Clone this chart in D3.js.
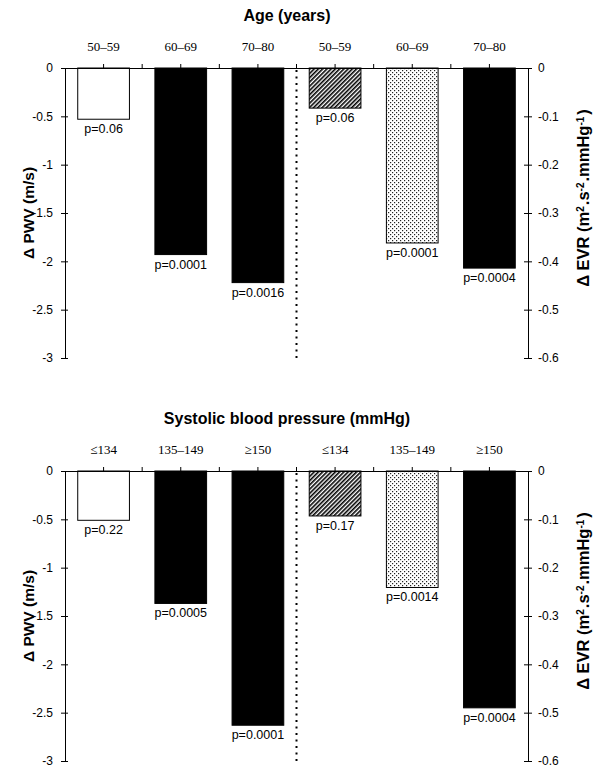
<!DOCTYPE html>
<html>
<head>
<meta charset="utf-8">
<script src="https://cdn.jsdelivr.net/npm/d3@7"></script>
<style>
  body { margin: 0; background: #fff; }
  svg { display: block; }
  .tick text { font-family: "Liberation Sans", Arial, sans-serif; }
</style>
</head>
<body>
<div id="chart"></div>
<script>
// values
const ageGroups = ['50–59', '60–69', '70–80']
const sbpGroups = ['≤134', '135–149', '≥150']

const agePwv = [-0.53, -1.93, -2.22]
const ageEvr = [-0.083, -0.362, -0.414]
const agePwvP = ['p=0.06', 'p=0.0001', 'p=0.0016']
const ageEvrP = ['p=0.06', 'p=0.0001', 'p=0.0004']

const sbpPwv = [-0.51, -1.37, -2.63]
const sbpEvr = [-0.093, -0.241, -0.49]
const sbpPwvP = ['p=0.22', 'p=0.0005', 'p=0.0001']
const sbpEvrP = ['p=0.17', 'p=0.0014', 'p=0.0004']

const pwvTicks = [0, -0.5, -1, -1.5, -2, -2.5, -3]
const evrTicks = [0, -0.1, -0.2, -0.3, -0.4, -0.5, -0.6]

// bar look, in the order the bars are drawn
const barFills = ['white', 'black', 'black', 'url(#hatch)', 'url(#dots)', 'black']

const d3 = window.d3
const W = 597, H = 768
const left = 65, right = 528, plotH = 290

const svg = d3.select('#chart').append('svg')
  .attr('width', W)
  .attr('height', H)

// fill patterns for the EVR bars
const defs = svg.append('defs')
defs.append('pattern')
  .attr('id', 'hatch')
  .attr('patternUnits', 'userSpaceOnUse')
  .attr('width', 3)
  .attr('height', 3)
  .attr('patternTransform', 'rotate(45)')
  .append('rect')
  .attr('width', 1.6)
  .attr('height', 3)
  .attr('fill', 'black')

const dots = defs.append('pattern')
  .attr('id', 'dots')
  .attr('patternUnits', 'userSpaceOnUse')
  .attr('width', 4)
  .attr('height', 4)
dots.append('rect').attr('width', 4).attr('height', 4).attr('fill', 'white')
dots.append('rect').attr('x', 0).attr('y', 0).attr('width', 1.2).attr('height', 1.2).attr('fill', '#222')
dots.append('rect').attr('x', 2).attr('y', 2).attr('width', 1.2).attr('height', 1.2).attr('fill', '#222')

function panel(top, title, groups, pwv, evr, pwvP, evrP) {
  const g = svg.append('g').attr('transform', 'translate(0,' + top + ')')

  // six slots: three PWV bars then three EVR bars
  const cats = groups.map(d => 'L' + d).concat(groups.map(d => 'R' + d))
  const x = d3.scaleBand().domain(cats).range([left, right]).paddingInner(0.33).paddingOuter(0.165)
  const yL = d3.scaleLinear().domain([0, -3]).range([0, plotH])
  const yR = d3.scaleLinear().domain([0, -0.6]).range([0, plotH])

  const rows = pwv.map((v, i) => ({cat: cats[i], v: v, y: yL, p: pwvP[i]}))
    .concat(evr.map((v, i) => ({cat: cats[i + 3], v: v, y: yR, p: evrP[i]})))

  // title
  g.append('text')
    .attr('x', 287)
    .attr('y', -47)
    .attr('text-anchor', 'middle')
    .style('font-family', '"Liberation Sans", Arial, sans-serif')
    .style('font-weight', 'bold')
    .style('font-size', '16px')
    .text(title)

  // bars
  g.selectAll('rect.bar')
    .data(rows)
    .enter().append('rect')
    .attr('class', 'bar')
    .attr('x', d => x(d.cat))
    .attr('width', x.bandwidth())
    .attr('y', d => d.y(0))
    .attr('height', d => d.y(d.v) - d.y(0))
    .attr('fill', (d, i) => barFills[i])
    .attr('stroke', 'black')
    .attr('stroke-width', 1)

  // p values under the bars
  g.selectAll('text.pval')
    .data(rows)
    .enter().append('text')
    .attr('class', 'pval')
    .attr('x', d => x(d.cat) + x.bandwidth() / 2)
    .attr('y', d => d.y(d.v) + 14)
    .attr('text-anchor', 'middle')
    .style('font-family', '"Liberation Sans", Arial, sans-serif')
    .style('font-size', '12.5px')
    .text(d => d.p)

  // top axis at zero with group labels
  const topAxis = g.append('g')
    .call(d3.axisTop(x).tickSize(4).tickSizeOuter(0).tickPadding(13).tickFormat(d => d.slice(1)))
  topAxis.select('.domain').attr('stroke-width', 1)
  topAxis.selectAll('.tick text')
    .style('font-family', '"Liberation Serif", "Times New Roman", serif')
    .style('font-size', '13px')
  // boundary ticks between groups
  const bounds = cats.slice(1).map(c => x(c) - x.step() * x.paddingInner() / 2)
  topAxis.selectAll('line.bound')
    .data(bounds)
    .enter().append('line')
    .attr('class', 'bound')
    .attr('x1', d => d).attr('x2', d => d)
    .attr('y1', 0).attr('y2', -4)
    .attr('stroke', 'black')

  // dotted divider between PWV and EVR halves
  g.append('line')
    .attr('x1', bounds[2]).attr('x2', bounds[2])
    .attr('y1', 2).attr('y2', plotH)
    .attr('stroke', 'black')
    .attr('stroke-width', 2)
    .attr('stroke-dasharray', '2,4.5')

  // left axis
  const la = g.append('g')
    .attr('transform', 'translate(' + left + ',0)')
    .call(d3.axisLeft(yL).tickValues(pwvTicks).tickSize(4).tickSizeOuter(0).tickPadding(8).tickFormat(d => String(d)))
  la.selectAll('.tick line').attr('x2', 3).attr('x1', -4)
  la.selectAll('.tick text').style('font-size', '12px')

  // right axis
  const ra = g.append('g')
    .attr('transform', 'translate(' + right + ',0)')
    .call(d3.axisRight(yR).tickValues(evrTicks).tickSize(4).tickSizeOuter(0).tickPadding(6).tickFormat(d => String(d)))
  ra.selectAll('.tick line').attr('x1', -4).attr('x2', 4)
  ra.selectAll('.tick text').style('font-size', '12px')

  // axis titles
  g.append('text')
    .attr('transform', 'translate(34,' + 145 + ') rotate(-90)')
    .attr('text-anchor', 'middle')
    .style('font-family', '"Liberation Sans", Arial, sans-serif')
    .style('font-weight', 'bold')
    .style('font-size', '15.5px')
    .text('Δ PWV (m/s)')

  const rt = g.append('text')
    .attr('transform', 'translate(589,' + 130 + ') rotate(-90)')
    .attr('text-anchor', 'middle')
    .style('font-family', '"Liberation Sans", Arial, sans-serif')
    .style('font-weight', 'bold')
    .style('font-size', '16.5px')
  rt.append('tspan').text('Δ EVR (m')
  rt.append('tspan').attr('baseline-shift', 'super').style('font-size', '10px').text('2')
  rt.append('tspan').attr('dx', 1).text('.s')
  rt.append('tspan').attr('baseline-shift', 'super').style('font-size', '10px').text('-2')
  rt.append('tspan').attr('dx', 1).text('.mmHg')
  rt.append('tspan').attr('baseline-shift', 'super').style('font-size', '10px').text('-1')
  rt.append('tspan').attr('dx', 2).text(')')
}

panel(68, 'Age (years)', ageGroups, agePwv, ageEvr, agePwvP, ageEvrP)
panel(471, 'Systolic blood pressure (mmHg)', sbpGroups, sbpPwv, sbpEvr, sbpPwvP, sbpEvrP)
</script>
</body>
</html>
